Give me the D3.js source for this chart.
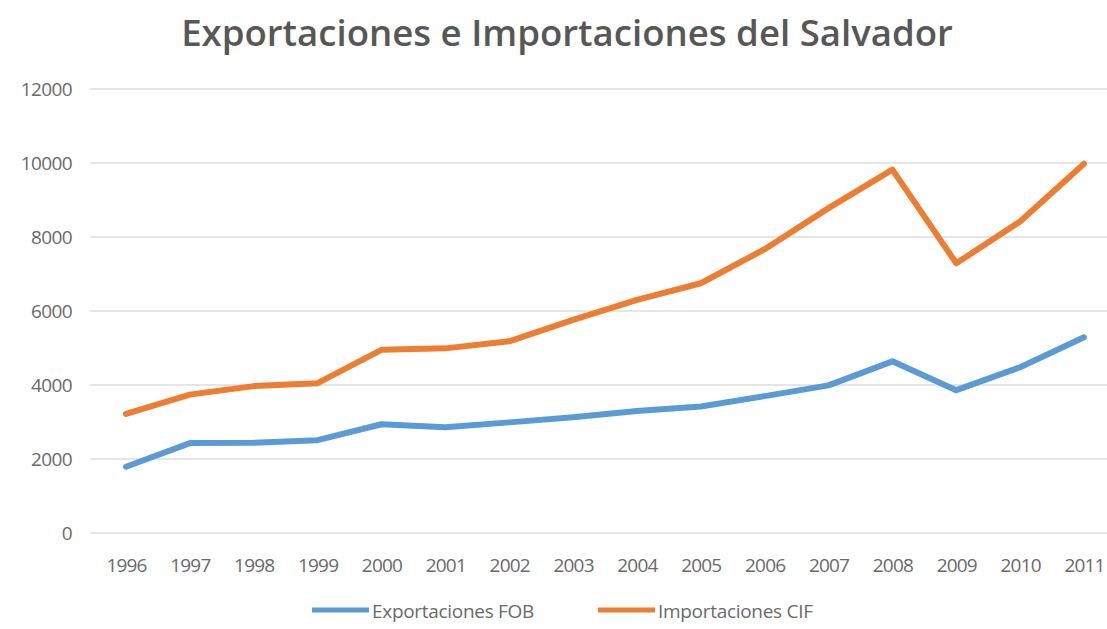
<!DOCTYPE html>
<html>
<head>
<meta charset="utf-8">
<script src="https://cdn.jsdelivr.net/npm/d3@7"></script>
<style>
  html, body { margin: 0; padding: 0; background: #fff; }
  svg text { font-family: "Open Sans", "Noto Sans", sans-serif; fill: #595959; }
</style>
</head>
<body>
<svg id="chart" width="1107" height="629"></svg>
<script>
// Exportaciones FOB / Importaciones CIF, El Salvador, 1996-2011
var years = ["1996", "1997", "1998", "1999", "2000", "2001", "2002", "2003",
             "2004", "2005", "2006", "2007", "2008", "2009", "2010", "2011"];
var exportaciones = [1790, 2430, 2440, 2510, 2940, 2860, 2990, 3130,
                     3300, 3420, 3700, 3990, 4640, 3860, 4480, 5290];
var importaciones = [3220, 3740, 3970, 4050, 4950, 4990, 5180, 5760,
                     6300, 6750, 7670, 8780, 9820, 7290, 8420, 9980];
var yTicks = [0, 2000, 4000, 6000, 8000, 10000, 12000];
var seriesNames = ["Exportaciones FOB", "Importaciones CIF"];
var seriesColors = ["#5b9bd5", "#ed7d31"];

(function () {
  var svg = d3.select("#chart");

  var x = d3.scalePoint().domain(years).range([126, 1084]);
  var y = d3.scaleLinear().domain([0, 12000]).range([533, 89]);

  // gridlines
  svg.append("g").selectAll("line")
    .data(yTicks).join("line")
    .attr("x1", 90).attr("x2", 1107)
    .attr("y1", function (d) { return y(d); })
    .attr("y2", function (d) { return y(d); })
    .attr("stroke", "#dcdcdc").attr("stroke-width", 1.3);

  // y axis labels
  var yAxis = d3.axisLeft(y).tickValues(yTicks).tickSize(0).tickPadding(0)
    .tickFormat(d3.format("d"));
  svg.append("g").attr("transform", "translate(72,0)").call(yAxis)
    .call(function (g) { g.select(".domain").remove(); })
    .selectAll("text")
    .style("font-size", "19px").style("fill", "#6a6a6a")
    .attr("letter-spacing", "-0.6px");

  // x axis labels
  var xAxis = d3.axisBottom(x).tickSize(0).tickPadding(0);
  svg.append("g").attr("transform", "translate(0,558)").call(xAxis)
    .call(function (g) { g.select(".domain").remove(); })
    .selectAll("text")
    .style("font-size", "19px").style("fill", "#6a6a6a")
    .attr("letter-spacing", "-0.8px");

  var line = d3.line()
    .x(function (d, i) { return x(years[i]); })
    .y(function (d) { return y(d); });

  [exportaciones, importaciones].forEach(function (vals, k) {
    svg.append("path")
      .datum(vals)
      .attr("d", line)
      .attr("fill", "none")
      .attr("stroke", seriesColors[k])
      .attr("stroke-width", 6)
      .attr("stroke-linejoin", "round")
      .attr("stroke-linecap", "round");
  });

  // title
  var title = svg.append("text")
    .attr("x", 567).attr("y", 46)
    .attr("text-anchor", "middle")
    .style("font-size", "34px").style("font-weight", "600")
    .style("fill", "#575757")
    .text("Exportaciones e Importaciones del Salvador");
  var tw = title.node().getComputedTextLength();
  if (tw > 0) title.style("font-size", (34 * 772 / tw) + "px");

  // legend
  var legendX = [312, 598];
  var legend = svg.append("g").selectAll("g")
    .data(seriesNames).join("g")
    .attr("transform", function (d, i) { return "translate(" + legendX[i] + ",610)"; });
  legend.append("line")
    .attr("x1", 0).attr("x2", 57).attr("y1", 0).attr("y2", 0)
    .attr("stroke", function (d, i) { return seriesColors[i]; })
    .attr("stroke-width", 5);
  legend.append("text")
    .attr("x", 60).attr("y", 8)
    .style("font-size", "19px").style("fill", "#6a6a6a")
    .attr("letter-spacing", "-0.3px")
    .text(function (d) { return d; });
})();
</script>
</body>
</html>
